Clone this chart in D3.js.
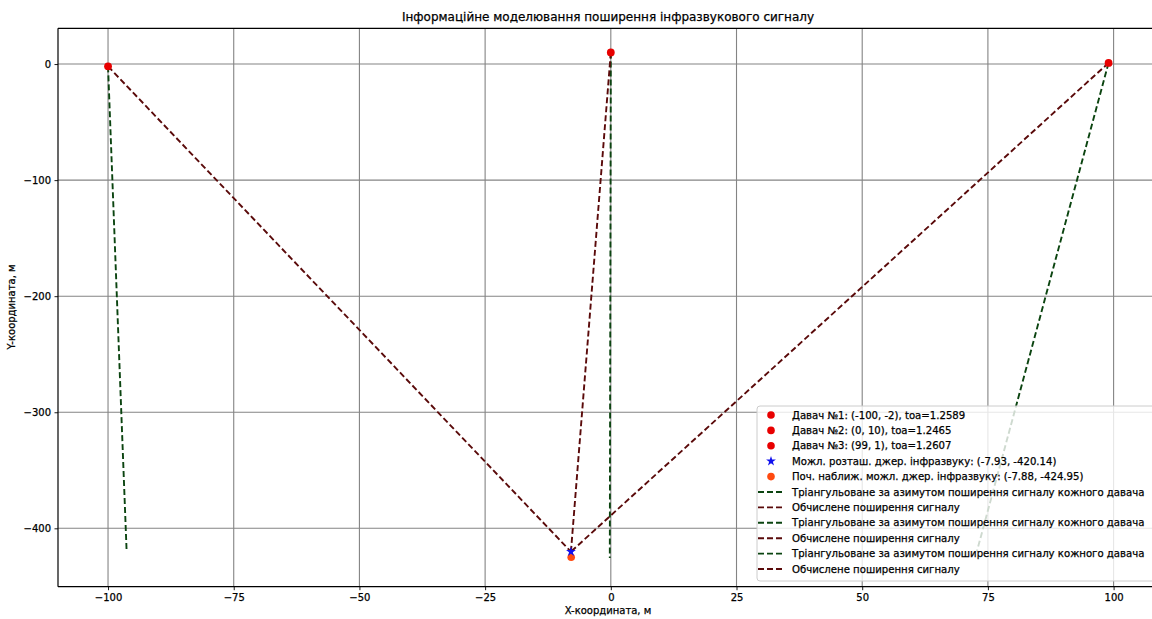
<!DOCTYPE html>
<html>
<head>
<meta charset="utf-8">
<script src="https://cdn.jsdelivr.net/npm/d3@7"></script>
<style>
  body { margin: 0; background: #fff; }
  text { font-family: "DejaVu Sans", sans-serif; fill: #000; stroke: #000; stroke-width: 0.25px; }
</style>
</head>
<body>
<div id="chart"></div>
<script>
// sensor positions and time of arrival
var sensorNames = ["Давач №1", "Давач №2", "Давач №3"];
var sensorX = [-100, 0, 99];
var sensorY = [-2, 10, 1];
var sensorToa = [1.2589, 1.2465, 1.2607];

// estimated source and initial guess
var sourceXY = [-7.93, -420.14];
var initialXY = [-7.88, -424.95];

// ends of the triangulated azimuth lines
var triEndX = [-96.3, -0.2, 72.8];
var triEndY = [-420, -425.5, -420];

var xTicks = [-100, -75, -50, -25, 0, 25, 50, 75, 100];
var yTicks = [0, -100, -200, -300, -400];

var titleText = "Інформаційне моделювання поширення інфразвукового сигналу";
var xLabel = "X-координата, м";
var yLabel = "Y-координата, м";
var triLabel = "Тріангульоване за азимутом поширення сигналу кожного давача";
var calcLabel = "Обчислене поширення сигналу";

var width = 1152, height = 619;
var triColor = "#0b4410", calcColor = "#5a0a0a";

var svg = d3.select("#chart").append("svg")
  .attr("width", width)
  .attr("height", height);
svg.append("rect").attr("width", width).attr("height", height).attr("fill", "#fff");

var x = d3.scaleLinear().domain([-109.95, 108.95]).range([58, 1158.6]);
var y = d3.scaleLinear().domain([-450.3, 30.8]).range([586.7, 28.3]);

var plot = svg.append("g");
svg.append("clipPath").attr("id", "clip")
  .append("rect").attr("x", 58).attr("y", 28.3).attr("width", 1100.6).attr("height", 558.4);

// grid
plot.append("g").selectAll("line").data(xTicks).enter().append("line")
  .attr("x1", function(d){ return x(d); }).attr("x2", function(d){ return x(d); })
  .attr("y1", y.range()[0]).attr("y2", y.range()[1])
  .attr("stroke", "#848484").attr("stroke-width", 1.1);
plot.append("g").selectAll("line").data(yTicks).enter().append("line")
  .attr("y1", function(d){ return y(d); }).attr("y2", function(d){ return y(d); })
  .attr("x1", x.range()[0]).attr("x2", x.range()[1])
  .attr("stroke", "#848484").attr("stroke-width", 1.1);

var marks = plot.append("g").attr("clip-path", "url(#clip)");

// lines for each sensor: triangulated then computed
sensorX.forEach(function(sx, i) {
  marks.append("line")
    .attr("x1", x(sx)).attr("y1", y(sensorY[i]))
    .attr("x2", x(triEndX[i])).attr("y2", y(triEndY[i]))
    .attr("stroke", triColor).attr("stroke-width", 1.9)
    .attr("stroke-dasharray", "6,3");
  marks.append("line")
    .attr("x1", x(sx)).attr("y1", y(sensorY[i]))
    .attr("x2", x(sourceXY[0])).attr("y2", y(sourceXY[1]))
    .attr("stroke", calcColor).attr("stroke-width", 1.9)
    .attr("stroke-dasharray", "6,3");
});

var star = d3.symbol().type(d3.symbolStar).size(30);

marks.selectAll("circle.sensor").data(sensorX).enter().append("circle")
  .attr("class", "sensor")
  .attr("cx", function(d){ return x(d); })
  .attr("cy", function(d, i){ return y(sensorY[i]); })
  .attr("r", 3.9).attr("fill", "#e80000");

marks.append("circle")
  .attr("cx", x(initialXY[0])).attr("cy", y(initialXY[1]))
  .attr("r", 3.8).attr("fill", "#ff4a10");
marks.append("path")
  .attr("d", star)
  .attr("transform", "translate(" + x(sourceXY[0]) + "," + y(sourceXY[1]) + ")")
  .attr("fill", "#1010ee");

// axes
var fmt = function(d){ return d3.format("")(d).replace("-", "\u2212"); };
var xAxis = svg.append("g")
  .attr("transform", "translate(0," + y.range()[0] + ")")
  .call(d3.axisBottom(x).tickValues(xTicks).tickSize(3.5).tickPadding(3.5).tickFormat(fmt));
var yAxis = svg.append("g")
  .attr("transform", "translate(" + x.range()[0] + ",0)")
  .call(d3.axisLeft(y).tickValues(yTicks).tickSize(3.5).tickPadding(3.5).tickFormat(fmt));
[xAxis, yAxis].forEach(function(a) {
  a.select(".domain").remove();
  a.selectAll("text").attr("font-size", 10).attr("font-family", "DejaVu Sans").attr("fill", "#000");
  a.selectAll("line").attr("stroke", "#000").attr("stroke-width", 0.9);
});

// spines
svg.append("line").attr("x1", 58).attr("x2", 58).attr("y1", 28.3).attr("y2", 586.7)
  .attr("stroke", "#000").attr("stroke-width", 1.2);
svg.append("line").attr("x1", 58).attr("x2", 1160).attr("y1", 586.7).attr("y2", 586.7)
  .attr("stroke", "#000").attr("stroke-width", 1.2);
svg.append("line").attr("x1", 58).attr("x2", 1160).attr("y1", 28.3).attr("y2", 28.3)
  .attr("stroke", "#000").attr("stroke-width", 1.2);

// titles
svg.append("text").attr("x", 608).attr("y", 21).attr("text-anchor", "middle")
  .attr("font-size", 12).text(titleText);
svg.append("text").attr("x", 608).attr("y", 614).attr("text-anchor", "middle")
  .attr("font-size", 10).text(xLabel);
svg.append("text").attr("transform", "translate(15,307) rotate(-90)")
  .attr("text-anchor", "middle").attr("font-size", 10).text(yLabel);

// legend
var legendItems = [];
sensorNames.forEach(function(n, i) {
  legendItems.push({kind: "dot", color: "#e80000",
    label: n + ": (" + sensorX[i] + ", " + sensorY[i] + "), toa=" + sensorToa[i]});
});
legendItems.push({kind: "star", color: "#1010ee",
  label: "Можл. розташ. джер. інфразвуку: (" + sourceXY[0] + ", " + sourceXY[1] + ")"});
legendItems.push({kind: "dot", color: "#ff4a10",
  label: "Поч. наближ. можл. джер. інфразвуку: (" + initialXY[0] + ", " + initialXY[1] + ")"});
sensorX.forEach(function() {
  legendItems.push({kind: "line", color: triColor, label: triLabel});
  legendItems.push({kind: "line", color: calcColor, label: calcLabel});
});

var lg = svg.append("g");
lg.append("rect").attr("x", 757).attr("y", 406).attr("width", 420).attr("height", 175)
  .attr("rx", 3).attr("fill", "#fff").attr("fill-opacity", 0.8)
  .attr("stroke", "#cccccc").attr("stroke-width", 1);

var row = lg.selectAll("g.row").data(legendItems).enter().append("g")
  .attr("class", "row")
  .attr("transform", function(d, i){ return "translate(0," + (415 + i * 15.4) + ")"; });
row.each(function(d) {
  var g = d3.select(this);
  if (d.kind === "dot") {
    g.append("circle").attr("cx", 771).attr("cy", 0).attr("r", 3.8).attr("fill", d.color);
  } else if (d.kind === "star") {
    g.append("path").attr("d", star).attr("transform", "translate(771,0)").attr("fill", d.color);
  } else {
    g.append("line").attr("x1", 758).attr("x2", 782).attr("y1", 0).attr("y2", 0)
      .attr("stroke", d.color).attr("stroke-width", 1.9).attr("stroke-dasharray", "6,3");
  }
  g.append("text").attr("x", 792).attr("y", 3.6).attr("font-size", 10.15).text(d.label);
});
</script>
</body>
</html>
